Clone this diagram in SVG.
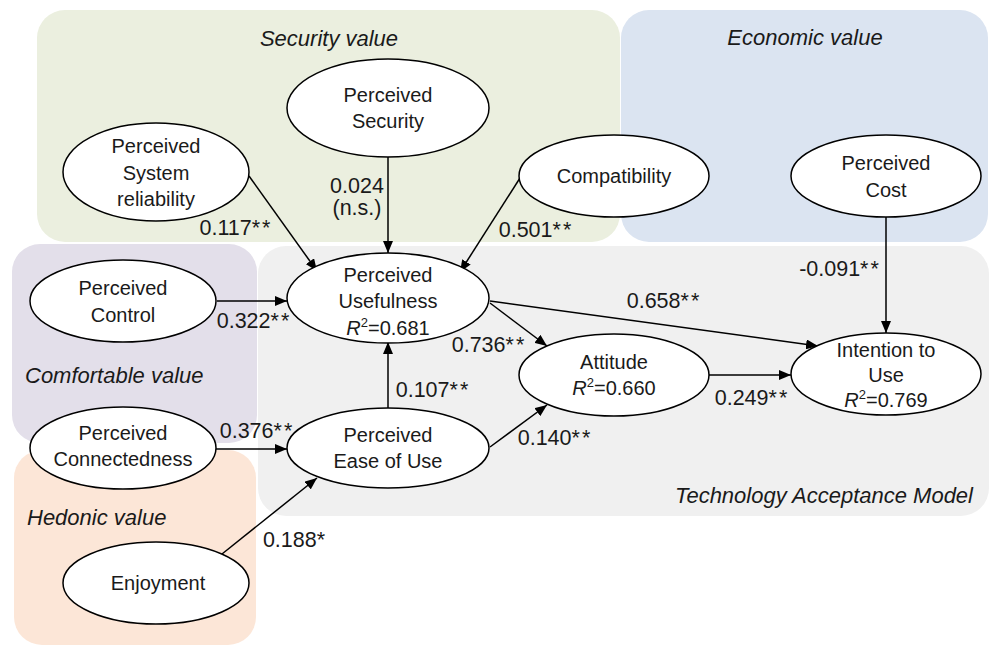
<svg xmlns="http://www.w3.org/2000/svg" width="989" height="645" viewBox="0 0 989 645">
<style>
.node ellipse{fill:#fff;stroke:#000;stroke-width:1.5}
.nt{font-family:"Liberation Sans",Arial,sans-serif;font-size:20px;fill:#1a1a1a;text-anchor:middle}
.title{font-family:"Liberation Sans",Arial,sans-serif;font-size:22px;font-style:italic;fill:#1a1a1a}
.lbl{font-family:"Liberation Sans",Arial,sans-serif;font-size:21.5px;fill:#1a1a1a;text-anchor:middle}
.st{letter-spacing:2px}
.conn line{stroke:#000;stroke-width:1.5;fill:none}
.arr{marker-end:url(#ah)}
</style>
<defs>
<marker id="ah" markerUnits="userSpaceOnUse" markerWidth="12" markerHeight="10" viewBox="0 0 12 10" refX="12" refY="5" orient="auto">
<path d="M0,0 L12,5 L0,10 Z" fill="#000"/>
</marker>
</defs>
<rect width="989" height="645" fill="#fff"/>
<g id="panels">
<rect id="tam-panel" x="258" y="246" width="731" height="270" rx="28" fill="#f0f0f0"/>
<rect id="security-panel" x="37" y="10" width="583" height="232" rx="28" fill="#ebefdf"/>
<rect id="economic-panel" x="621" y="10" width="367" height="232" rx="28" fill="#dbe4f1"/>
<rect id="comfortable-panel" x="12" y="244" width="245" height="199" rx="28" fill="#e3dfea"/>
<rect id="hedonic-panel" x="14" y="450" width="242" height="195" rx="28" fill="#fce6d7"/>
<text class="title" x="329" y="46" text-anchor="middle">Security value</text>
<text class="title" x="805" y="45" text-anchor="middle">Economic value</text>
<text class="title" x="25" y="383">Comfortable value</text>
<text class="title" x="27" y="525">Hedonic value</text>
<text class="title" x="973" y="503" text-anchor="end">Technology Acceptance Model</text>
</g>
<g id="connectors" class="conn">
<line class="arr" x1="249" y1="176" x2="317" y2="271"/>
<line class="arr" x1="388" y1="157" x2="388" y2="253"/>
<line class="arr" x1="520" y1="178" x2="460" y2="272"/>
<line class="arr" x1="217" y1="301" x2="287" y2="301"/>
<line class="arr" x1="216" y1="449" x2="287" y2="449"/>
<line class="arr" x1="222" y1="554" x2="317" y2="478"/>
<line class="arr" x1="388" y1="408" x2="388" y2="342"/>
<line class="arr" x1="490" y1="303" x2="547" y2="346"/>
<line class="arr" x1="490" y1="301" x2="818" y2="346"/>
<line class="arr" x1="490" y1="447" x2="547" y2="405"/>
<line class="arr" x1="708" y1="375" x2="791" y2="375"/>
<line class="arr" x1="886" y1="217" x2="886" y2="333"/>
</g>
<g id="labels">
<text class="lbl" x="236" y="235">0.117<tspan class="st">**</tspan></text>
<text class="lbl" x="357" y="193">0.024</text>
<text class="lbl" x="357" y="215">(n.s.)</text>
<text class="lbl" x="536" y="237">0.501<tspan class="st">**</tspan></text>
<text class="lbl" x="254" y="328">0.322<tspan class="st">**</tspan></text>
<text class="lbl" x="257" y="438">0.376<tspan class="st">**</tspan></text>
<text class="lbl" x="294" y="547">0.188*</text>
<text class="lbl" x="433" y="397">0.107<tspan class="st">**</tspan></text>
<text class="lbl" x="489" y="352">0.736<tspan class="st">**</tspan></text>
<text class="lbl" x="555" y="445">0.140<tspan class="st">**</tspan></text>
<text class="lbl" x="664" y="308">0.658<tspan class="st">**</tspan></text>
<text class="lbl" x="840" y="276">-0.091<tspan class="st">**</tspan></text>
<text class="lbl" x="752" y="405">0.249<tspan class="st">**</tspan></text>
</g>
<g id="n-reliability" class="node">
<ellipse cx="156" cy="172" rx="93" ry="49"/>
<text class="nt" x="156" y="153">Perceived</text>
<text class="nt" x="156" y="180">System</text>
<text class="nt" x="156" y="206">reliability</text>
</g>
<g id="n-security" class="node">
<ellipse cx="388" cy="108" rx="101" ry="49"/>
<text class="nt" x="388" y="102">Perceived</text>
<text class="nt" x="388" y="128">Security</text>
</g>
<g id="n-compatibility" class="node">
<ellipse cx="614" cy="176" rx="95" ry="41"/>
<text class="nt" x="614" y="183">Compatibility</text>
</g>
<g id="n-cost" class="node">
<ellipse cx="886" cy="176" rx="95" ry="41"/>
<text class="nt" x="886" y="170">Perceived</text>
<text class="nt" x="886" y="197">Cost</text>
</g>
<g id="n-control" class="node">
<ellipse cx="123" cy="301" rx="93" ry="41"/>
<text class="nt" x="123" y="295">Perceived</text>
<text class="nt" x="123" y="322">Control</text>
</g>
<g id="n-connectedness" class="node">
<ellipse cx="123" cy="448" rx="93" ry="41"/>
<text class="nt" x="123" y="440">Perceived</text>
<text class="nt" x="123" y="466">Connectedness</text>
</g>
<g id="n-enjoyment" class="node">
<ellipse cx="156" cy="583" rx="93" ry="41"/>
<text class="nt" x="158" y="590">Enjoyment</text>
</g>
<g id="n-usefulness" class="node">
<ellipse cx="388" cy="298" rx="101" ry="45"/>
<text class="nt" x="388" y="282">Perceived</text>
<text class="nt" x="388" y="308">Usefulness</text>
<text class="nt" x="388" y="335"><tspan font-style="italic">R</tspan><tspan font-size="13" dy="-8">2</tspan><tspan dy="8">=0.681</tspan></text>
</g>
<g id="n-easeofuse" class="node">
<ellipse cx="388" cy="448" rx="101" ry="40"/>
<text class="nt" x="388" y="442">Perceived</text>
<text class="nt" x="388" y="468">Ease of Use</text>
</g>
<g id="n-attitude" class="node">
<ellipse cx="614" cy="375" rx="95" ry="41"/>
<text class="nt" x="614" y="369">Attitude</text>
<text class="nt" x="614" y="395"><tspan font-style="italic">R</tspan><tspan font-size="13" dy="-8">2</tspan><tspan dy="8">=0.660</tspan></text>
</g>
<g id="n-intention" class="node">
<ellipse cx="886" cy="374" rx="95" ry="41"/>
<text class="nt" x="886" y="357">Intention to</text>
<text class="nt" x="886" y="382">Use</text>
<text class="nt" x="886" y="407"><tspan font-style="italic">R</tspan><tspan font-size="13" dy="-8">2</tspan><tspan dy="8">=0.769</tspan></text>
</g>
</svg>
